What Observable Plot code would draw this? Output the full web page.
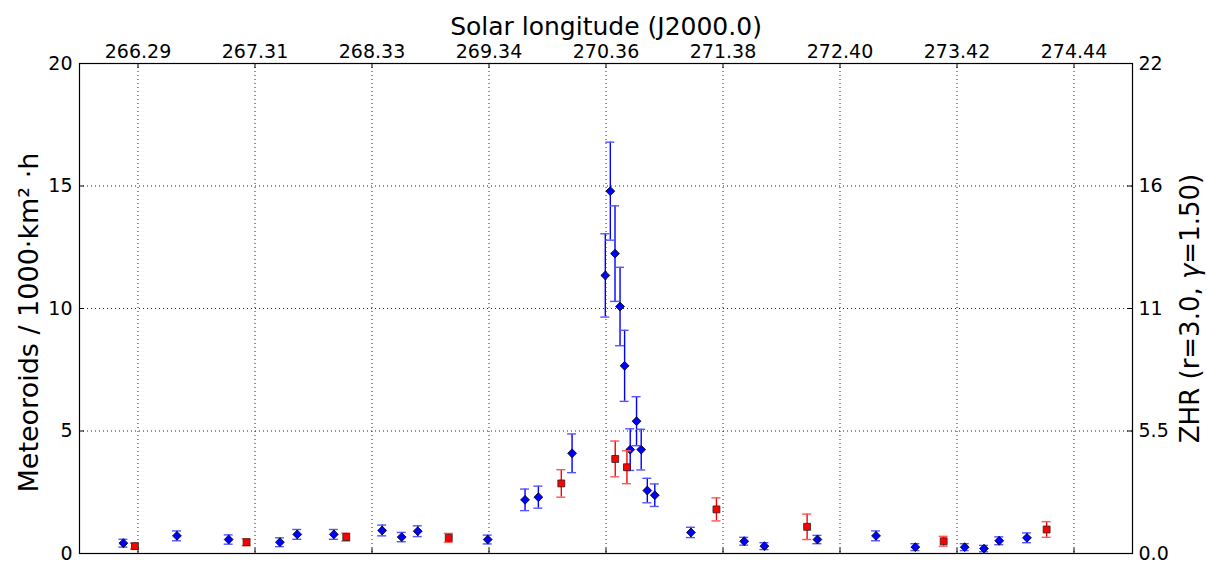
<!DOCTYPE html>
<html><head><meta charset="utf-8">
<script src="https://cdn.jsdelivr.net/npm/d3@7"></script>
<script src="https://cdn.jsdelivr.net/npm/@observablehq/plot@0.6"></script>
<style>body{margin:0;background:#fff;} svg{display:block}</style>
</head><body><div id="chart"></div>
<script>
const dayTicks = [0, 1, 2, 3, 4, 5, 6, 7, 8];
const lonLabels = ["266.29", "267.31", "268.33", "269.34", "270.36", "271.38", "272.40", "273.42", "274.44"];
const yTicks = [0, 5, 10, 15, 20];
const zhrLabels = ["0.0", "5.5", "11", "16", "22"];

const blueX = [-0.125, 0.333, 0.775, 1.213, 1.361, 1.674, 2.087, 2.254, 2.391, 2.989,
  3.308, 3.422, 3.710, 3.994, 4.037, 4.077, 4.120, 4.159, 4.207, 4.261,
  4.301, 4.353, 4.417, 4.726, 5.181, 5.354, 5.807, 6.308, 6.644, 7.066,
  7.231, 7.361, 7.598];
const blueY = [0.42, 0.72, 0.57, 0.46, 0.78, 0.78, 0.94, 0.67, 0.91, 0.57,
  2.19, 2.30, 4.09, 11.35, 14.79, 12.24, 10.08, 7.66, 4.24, 5.40,
  4.24, 2.57, 2.38, 0.86, 0.50, 0.30, 0.57, 0.72, 0.26, 0.26,
  0.20, 0.52, 0.64];
const blueErr = [0.16, 0.2, 0.19, 0.18, 0.2, 0.2, 0.22, 0.19, 0.22, 0.18,
  0.44, 0.45, 0.79, 1.7, 2.0, 1.95, 1.6, 1.45, 0.85, 1.0,
  0.83, 0.5, 0.46, 0.21, 0.16, 0.14, 0.17, 0.2, 0.14, 0.14,
  0.13, 0.16, 0.2];

const redX = [-0.026, 0.928, 1.780, 2.656, 3.618, 4.079, 4.179, 4.944, 5.719, 6.886, 7.766];
const redY = [0.30, 0.46, 0.67, 0.64, 2.86, 3.86, 3.52, 1.80, 1.09, 0.50, 0.98];
const redErr = [0.12, 0.14, 0.16, 0.18, 0.56, 0.73, 0.67, 0.47, 0.52, 0.2, 0.32];

const blue = blueX.map((x, i) => ({x, y: blueY[i], e: blueErr[i]}));
const red = redX.map((x, i) => ({x, y: redY[i], e: redErr[i]}));

const gridStyle = {stroke: "#000", strokeOpacity: 0.85, strokeDasharray: "1,3"};
const BLUE = "#0000ff", RED = "#ff0000";

function errorMarks(data, color, capColor) {
  return [
    Plot.ruleX(data, {x: "x", y1: d => d.y - d.e, y2: d => d.y + d.e, stroke: color, strokeWidth: 1.4}),
    Plot.ruleY(data, {x1: "x", x2: "x", y: d => d.y + d.e, insetLeft: -4.5, insetRight: -4.5, stroke: capColor, strokeWidth: 1.4}),
    Plot.ruleY(data, {x1: "x", x2: "x", y: d => d.y - d.e, insetLeft: -4.5, insetRight: -4.5, stroke: capColor, strokeWidth: 1.4})
  ];
}

const chart = Plot.plot({
  width: 1207, height: 563,
  marginLeft: 79, marginRight: 75, marginTop: 63, marginBottom: 10,
  style: {fontFamily: "DejaVu Sans", fontSize: "19px", background: "#fff", color: "#000", overflow: "visible"},
  x: {domain: [-0.5, 8.5]},
  y: {domain: [0, 20]},
  marks: [
    Plot.gridX(dayTicks, gridStyle),
    Plot.gridY([5, 10, 15], gridStyle),
    Plot.tickX(dayTicks, {x: d => d, insetTop: 485, stroke: "#000"}),
    Plot.tickX(dayTicks, {x: d => d, insetBottom: 485, stroke: "#000"}),
    Plot.tickY(yTicks, {y: d => d, insetRight: 1048, stroke: "#000"}),
    Plot.tickY(yTicks, {y: d => d, insetLeft: 1048, stroke: "#000"}),
    Plot.frame({stroke: "#000", strokeWidth: 1.2}),
    Plot.axisX(dayTicks, {anchor: "top", tickSize: 0, tickPadding: 6, label: null,
      tickFormat: d => lonLabels[dayTicks.indexOf(d)]}),
    Plot.axisY(yTicks, {anchor: "left", tickSize: 0, tickPadding: 7, label: null}),
    Plot.axisY(yTicks, {anchor: "right", tickSize: 0, tickPadding: 6, label: null,
      tickFormat: d => zhrLabels[yTicks.indexOf(d)]}),
    ...errorMarks(blue, BLUE, "#5555ff"),
    Plot.dot(blue, {x: "x", y: "y", symbol: "diamond2", r: 4.0, fill: BLUE, stroke: "#000", strokeWidth: 0.8}),
    ...errorMarks(red, RED, "#ff5555"),
    Plot.dot(red, {x: "x", y: "y", symbol: "square", r: 3.9, fill: RED, stroke: "#222", strokeWidth: 0.8}),
    Plot.text(["Solar longitude (J2000.0)"], {frameAnchor: "top", dy: -29, lineAnchor: "bottom", fontSize: 25}),
    Plot.text(["Meteoroids / 1000·km² ·h"], {frameAnchor: "left", rotate: -90, dx: -42, dy: 184,
      textAnchor: "start", lineAnchor: "bottom", fontSize: 27}),
    Plot.text(["ZHR (r=3.0, γ=1.50)"], {frameAnchor: "right", rotate: -90, dx: 66,
      textAnchor: "middle", lineAnchor: "bottom", fontSize: 26})
  ]
});
// italic gamma as in the original math text
d3.select(chart).selectAll("text").each(function () {
  const t = d3.select(this);
  const s = t.text();
  if (s.includes("γ")) {
    const parts = s.split("γ");
    t.text(null);
    t.append("tspan").text(parts[0]);
    t.append("tspan").attr("font-style", "italic").text("γ");
    t.append("tspan").text(parts[1]);
  }
});
document.getElementById("chart").appendChild(chart);
</script>
</body></html>
